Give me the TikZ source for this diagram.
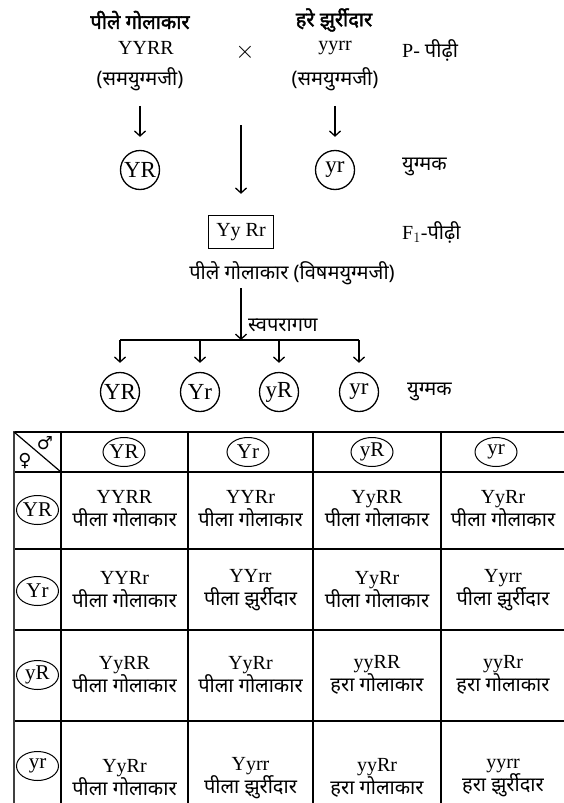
\documentclass[tikz,border=0pt]{standalone}
\usepackage{fontspec}
\setmainfont{Liberation Serif}
\newfontfamily\hindi[Script=Devanagari]{Noto Sans}
\newfontfamily\hindibold[Script=Devanagari,FakeBold=2]{Noto Sans}
\newfontfamily\symbfont{DejaVu Sans}
\usetikzlibrary{shapes.geometric,arrows.meta}

\newcommand{\hintext}[1]{{\hindi\fontsize{20}{24}\selectfont #1}}

\tikzset{
  lat/.style={font=\fontsize{20}{24}\selectfont, inner sep=1pt},
  hin/.style={font=\fontsize{20}{24}\selectfont\hindi, inner sep=1pt},
  bhead/.style={font=\fontsize{20}{24}\selectfont\hindibold, inner sep=1pt},
  gamete/.style={circle, draw, line width=1.3pt, minimum size=39pt, inner sep=0pt, font=\fontsize{23}{24}\selectfont},
  tabgam/.style={ellipse, draw, line width=1pt, minimum width=42pt, minimum height=29pt, inner sep=0pt, font=\fontsize{21}{24}\selectfont},
  arr/.style={-{Straight Barb[length=5pt,width=11pt]}, line width=1.3pt},
  cell/.style={align=center, font=\fontsize{20}{23}\selectfont, inner sep=0pt},
  hline/.style={line width=2.2pt},
  vline/.style={line width=1.5pt},
}

\begin{document}
\begin{tikzpicture}[x=1pt, y=-1pt]
  \useasboundingbox (0,0) rectangle (564,803);
  % Parents
  \node[bhead] (lhead) at (140,20) {पीले गोलाकार};
  \node[bhead] (rhead) at (334,20) {हरे झुर्रीदार};
  \node[lat] (lgeno) at (146,48) {YYRR};
  \node[lat, font=\fontsize{26}{26}\selectfont] (cross) at (245,52) {$\times$};
  \node[lat] (rgeno) at (335,48) {yyrr};
  \node[lat, anchor=west] (pgen) at (401,50) {P- \hintext{पीढ़ी}};
  \node[hin] (lhomo) at (140,79) {(समयुग्मजी)};
  \node[hin] (rhomo) at (335,79) {(समयुग्मजी)};
  % Parent gametes
  \node[gamete] (pYR) at (140,170) {YR};
  \node[gamete] (pyr) at (335,170) {yr};
  \node[hin, anchor=west] (gam1) at (401,167) {युग्मक};
  \draw[arr] ([yshift=-14pt]lhomo.south) -- ([yshift=13pt]pYR.north);
  \draw[arr] ([yshift=-14pt]rhomo.south) -- ([yshift=13pt]pyr.north);
  % F1
  \coordinate (midtop) at (241,125);
  \node[draw, line width=1.3pt, minimum width=65pt, minimum height=33pt, lat] (f1) at (241,232) {Yy Rr};
  \draw[arr] (midtop) -- ([yshift=21pt]f1.north);
  \node[lat, anchor=west] (f1gen) at (401,232) {F$_1$-\hintext{पीढ़ी}};
  \node[hin] (f1phen) at (292,273) {पीले गोलाकार (विषमयुग्मजी)};
  % Selfing
  \coordinate (selftop) at (241,288);
  \coordinate (split) at (241,340);
  \draw[arr] (selftop) -- (split);
  \node[hin, anchor=west] (selfing) at (247,325) {स्वपरागण};
  \node[gamete] (g1) at (120,392) {YR};
  \node[gamete] (g2) at (200,392) {Yr};
  \node[gamete] (g3) at (279,392) {yR};
  \node[gamete] (g4) at (359,392) {yr};
  \node[hin, anchor=west] (gam2) at (406,392) {युग्मक};
  \draw[line width=1.3pt] (g1 |- split) -- (g4 |- split);
  \draw[arr] (g1 |- split) -- ([yshift=9pt]g1.north);
  \draw[arr] (g2 |- split) -- ([yshift=9pt]g2.north);
  \draw[arr] (g3 |- split) -- ([yshift=9pt]g3.north);
  \draw[arr] (g4 |- split) -- ([yshift=9pt]g4.north);
  % Table
  \draw[hline] (14,432) -- (564,432);
  \draw[hline] (14,472) -- (564,472);
  \draw[hline] (14,549) -- (564,549);
  \draw[hline] (14,630) -- (564,630);
  \draw[hline] (14,721) -- (564,721);
  \draw[line width=1.2pt, black!75] (14,431) -- (14,803);
  \draw[vline] (61,431) -- (61,803);
  \draw[vline] (188,431) -- (188,803);
  \draw[vline] (313,431) -- (313,803);
  \draw[vline] (441,431) -- (441,803);
  \draw[line width=1.2pt] (14,432) -- (61,472);
  \node[font=\symbfont\fontsize{18}{18}\selectfont, inner sep=0pt] (male) at (45,443) {♂};
  \node[font=\symbfont\fontsize{18}{18}\selectfont, inner sep=0pt] (female) at (25,461) {♀};
  % Male gametes
  \node[tabgam] (mYR) at (124,452) {YR};
  \node[tabgam] (mYr) at (248,452) {Yr};
  \node[tabgam] (myR) at (372,452) {yR};
  \node[tabgam] (myr) at (496,452) {yr};
  % Female gametes
  \node[tabgam] (fYR) at (37.5,510) {YR};
  \node[tabgam] (fYr) at (37.5,591) {Yr};
  \node[tabgam] (fyR) at (37.5,675) {yR};
  \node[tabgam] (fyr) at (37.5,766) {yr};
  % Offspring
  \node[cell] (c11) at (124.5,509) {YYRR\\\hintext{पीला गोलाकार}};
  \node[cell] (c12) at (250.5,509) {YYRr\\\hintext{पीला गोलाकार}};
  \node[cell] (c13) at (377,509) {YyRR\\\hintext{पीला गोलाकार}};
  \node[cell] (c14) at (503,509) {YyRr\\\hintext{पीला गोलाकार}};
  \node[cell] (c21) at (124.5,590) {YYRr\\\hintext{पीला गोलाकार}};
  \node[cell] (c22) at (250.5,590) {YYrr\\\hintext{पीला झुर्रीदार}};
  \node[cell] (c23) at (377,590) {YyRr\\\hintext{पीला गोलाकार}};
  \node[cell] (c24) at (503,590) {Yyrr\\\hintext{पीला झुर्रीदार}};
  \node[cell] (c31) at (124.5,675) {YyRR\\\hintext{पीला गोलाकार}};
  \node[cell] (c32) at (250.5,675) {YyRr\\\hintext{पीला गोलाकार}};
  \node[cell] (c33) at (377,675) {yyRR\\\hintext{हरा गोलाकार}};
  \node[cell] (c34) at (503,675) {yyRr\\\hintext{हरा गोलाकार}};
  \node[cell] (c41) at (124.5,778) {YyRr\\\hintext{पीला गोलाकार}};
  \node[cell] (c42) at (250.5,778) {Yyrr\\\hintext{पीला झुर्रीदार}};
  \node[cell] (c43) at (377,778) {yyRr\\\hintext{हरा गोलाकार}};
  \node[cell] (c44) at (503,778) {yyrr\\\hintext{हरा झुर्रीदार}};
\end{tikzpicture}
\end{document}
